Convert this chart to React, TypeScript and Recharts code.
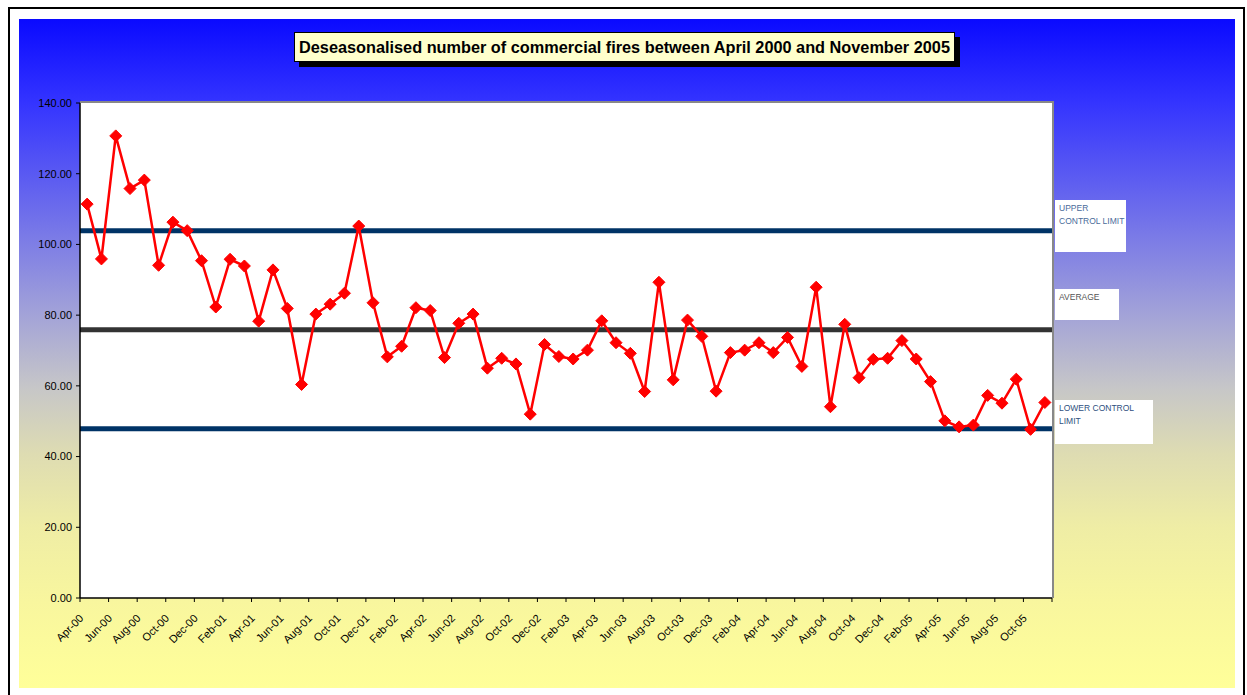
import React from "react";
import { LineChart, Line, XAxis, YAxis, ReferenceLine } from "recharts";

const months = [
  "Apr-00", "May-00", "Jun-00", "Jul-00", "Aug-00", "Sep-00", "Oct-00", "Nov-00", "Dec-00",
  "Jan-01", "Feb-01", "Mar-01", "Apr-01", "May-01", "Jun-01", "Jul-01", "Aug-01", "Sep-01", "Oct-01", "Nov-01", "Dec-01",
  "Jan-02", "Feb-02", "Mar-02", "Apr-02", "May-02", "Jun-02", "Jul-02", "Aug-02", "Sep-02", "Oct-02", "Nov-02", "Dec-02",
  "Jan-03", "Feb-03", "Mar-03", "Apr-03", "May-03", "Jun-03", "Jul-03", "Aug-03", "Sep-03", "Oct-03", "Nov-03", "Dec-03",
  "Jan-04", "Feb-04", "Mar-04", "Apr-04", "May-04", "Jun-04", "Jul-04", "Aug-04", "Sep-04", "Oct-04", "Nov-04", "Dec-04",
  "Jan-05", "Feb-05", "Mar-05", "Apr-05", "May-05", "Jun-05", "Jul-05", "Aug-05", "Sep-05", "Oct-05", "Nov-05",
];

const fires = [
  111.4, 95.9, 130.7, 115.8, 118.2, 94.1, 106.3, 103.9, 95.4,
  82.3, 95.8, 93.9, 78.3, 92.8, 81.9, 60.4, 80.3, 83.1, 86.2, 105.2, 83.5,
  68.2, 71.2, 82.1, 81.3, 68.0, 77.7, 80.3, 65.0, 67.8, 66.2, 52.0, 71.7,
  68.3, 67.6, 70.1, 78.4, 72.2, 69.2, 58.4, 89.3, 61.7, 78.6, 74.0, 58.5,
  69.4, 70.1, 72.2, 69.4, 73.7, 65.5, 87.9, 54.1, 77.4, 62.3, 67.5, 67.8,
  72.8, 67.6, 61.2, 50.1, 48.4, 48.9, 57.3, 55.1, 61.9, 47.7, 55.3,
];

const upperLimit = 103.9;
const average = 75.9;
const lowerLimit = 47.9;

const yTicks = [0, 20, 40, 60, 80, 100, 120, 140];
const xTicks = months.map((_, i) => i).filter((i) => i % 2 === 0);

const data = fires.map((v, i) => ({ i, value: v }));

// plot box in page pixels
const PLOT_LEFT = 80;
const PLOT_TOP = 103;
const PLOT_RIGHT = 1052;
const PLOT_BOTTOM = 598;
const STEP = (PLOT_RIGHT - PLOT_LEFT) / months.length;

const FONT = "'Liberation Sans', Arial, sans-serif";

const BACKGROUND =
  "linear-gradient(to bottom, #0a0aff 0%, #3434ff 12.5%, #7c7ce6 33%, #a2a2d8 44%, #c6c6c8 55%, #dedcb2 65%, #efeda5 76%, #f8f69e 87%, #ffff99 100%)";

const Diamond = (props: any) => {
  const { cx, cy } = props;
  if (cx == null || cy == null) return null;
  const r = 6;
  return (
    <polygon
      points={`${cx},${cy - r} ${cx + r},${cy} ${cx},${cy + r} ${cx - r},${cy}`}
      fill="#FF0000"
      stroke="#FF0000"
      strokeWidth={1}
    />
  );
};

const MonthTick = (props: any) => {
  const { x, payload } = props;
  const edge = x - STEP / 2;
  const tx = x - 3;
  const ty = PLOT_BOTTOM + 21;
  return (
    <g>
      <line x1={edge} x2={edge} y1={PLOT_BOTTOM} y2={PLOT_BOTTOM + 4} stroke="#000" strokeWidth={1} />
      {payload.value === xTicks[xTicks.length - 1] && (
        <line x1={edge + 2 * STEP} x2={edge + 2 * STEP} y1={PLOT_BOTTOM} y2={PLOT_BOTTOM + 4} stroke="#000" strokeWidth={1} />
      )}
      <text
        x={tx}
        y={ty}
        textAnchor="end"
        fontSize={11}
        fontFamily={FONT}
        fill="#000"
        transform={`rotate(-45, ${tx}, ${ty})`}
      >
        {months[payload.value]}
      </text>
    </g>
  );
};

const labelBox: React.CSSProperties = {
  position: "absolute",
  background: "#fff",
  fontFamily: FONT,
  fontSize: 8.5,
  lineHeight: "13px",
  paddingLeft: 4,
  paddingTop: 2,
  boxSizing: "border-box",
};

export default function App() {
  return (
    <div style={{ position: "fixed", left: 0, top: 0, width: 1247, height: 695, overflow: "hidden", background: "#fff" }}>
      <div
        style={{
          position: "absolute",
          left: 8,
          top: 7,
          width: 1237,
          height: 700,
          border: "2px solid #000",
          boxSizing: "border-box",
        }}
      />
      <div style={{ position: "absolute", left: 19, top: 19, width: 1216, height: 669, background: BACKGROUND }} />
      <div
        style={{
          position: "absolute",
          left: PLOT_LEFT,
          top: PLOT_TOP - 2,
          width: PLOT_RIGHT - PLOT_LEFT + 2,
          height: PLOT_BOTTOM - PLOT_TOP + 2,
          background: "#fff",
          borderTop: "2px solid #888",
          borderRight: "2px solid #888",
          boxSizing: "border-box",
        }}
      />
      <div style={{ position: "absolute", left: 299, top: 37, width: 661, height: 30, background: "#000" }} />
      <div
        style={{
          position: "absolute",
          left: 294,
          top: 32,
          width: 661,
          height: 30,
          background: "#ffffcc",
          border: "1px solid #000",
          boxSizing: "border-box",
          fontFamily: FONT,
          fontSize: 16.3,
          fontWeight: "bold",
          lineHeight: "28px",
          textAlign: "center",
          color: "#000",
          whiteSpace: "nowrap",
        }}
      >
        Deseasonalised number of commercial fires between April 2000 and November 2005
      </div>

      <div style={{ ...labelBox, left: 1055, top: 200, width: 71, height: 52, color: "#4a6b9a" }}>
        UPPER
        <br />
        CONTROL LIMIT
      </div>
      <div style={{ ...labelBox, left: 1055, top: 289, width: 64, height: 31, color: "#555" }}>AVERAGE</div>
      <div style={{ ...labelBox, left: 1055, top: 400, width: 98, height: 44, color: "#2e4f7e" }}>
        LOWER CONTROL
        <br />
        LIMIT
      </div>

      <div style={{ position: "absolute", left: 0, top: 0 }}>
        <LineChart
          width={1247}
          height={695}
          data={data}
          margin={{ top: PLOT_TOP, right: 1247 - PLOT_RIGHT, bottom: 695 - PLOT_BOTTOM - 60, left: PLOT_LEFT - 60 }}
        >
          <XAxis
            dataKey="i"
            type="number"
            domain={[-0.5, months.length - 0.5]}
            ticks={xTicks}
            interval={0}
            height={60}
            tickLine={false}
            axisLine={{ stroke: "#000", strokeWidth: 1.5 }}
            tick={<MonthTick />}
          />
          <YAxis
            type="number"
            domain={[0, 140]}
            ticks={yTicks}
            width={60}
            tickSize={4}
            tickMargin={4}
            tickLine={{ stroke: "#000" }}
            axisLine={{ stroke: "#000", strokeWidth: 1.5 }}
            tick={{ fontSize: 11, fontFamily: FONT, fill: "#000" }}
            tickFormatter={(v: number) => v.toFixed(2)}
          />
          <ReferenceLine y={upperLimit} stroke="#003366" strokeWidth={5} />
          <ReferenceLine y={average} stroke="#333333" strokeWidth={5} />
          <ReferenceLine y={lowerLimit} stroke="#003366" strokeWidth={5} />
          <Line
            type="linear"
            dataKey="value"
            stroke="#FF0000"
            strokeWidth={2.5}
            dot={<Diamond />}
            activeDot={false}
            isAnimationActive={false}
          />
        </LineChart>
      </div>
    </div>
  );
}
